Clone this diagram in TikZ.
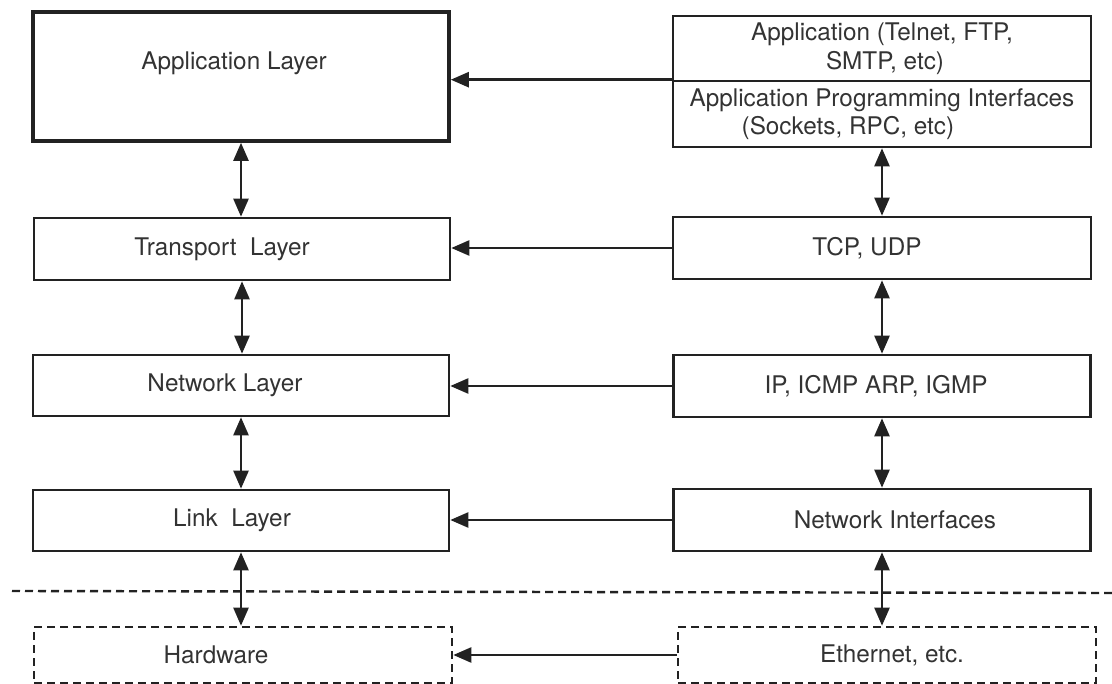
\documentclass[tikz,border=0pt]{standalone}
\usepackage{fontspec}
\setmainfont{TeX Gyre Heros}
\usetikzlibrary{arrows.meta,positioning}
\definecolor{ink}{HTML}{222222}
\definecolor{txt}{HTML}{333333}

\begin{document}
\begin{tikzpicture}[x=1pt, y=-1pt,
    layer/.style={draw=ink, line width=2.6pt, rectangle, minimum width=416pt, minimum height=62pt, inner sep=0pt, text=txt, font=\fontsize{24.3}{28.5}\selectfont},
    hwbox/.style={layer, dash pattern=on 8pt off 5pt, minimum width=418pt, minimum height=56pt},
    arr/.style={-{Triangle[length=18pt,width=15pt]}, line width=2.4pt, draw=ink},
    darr/.style={{Triangle[length=18pt,width=15pt]}-{Triangle[length=18pt,width=15pt]}, line width=2.4pt, draw=ink},
  ]
  \useasboundingbox (0,0) rectangle (1112,684);

  % Left column: the layers
  \node[layer, line width=3.6pt, minimum height=129pt, text depth=32pt] (App) at (241,76.5) {Application Layer\hspace*{14pt}};
  \node[layer] (Trans) at (242,249) {Transport~ Layer\hspace*{40pt}};
  \node[layer, minimum height=61pt] (Net) at (241,385.5) {Network Layer\hspace*{32pt}};
  \node[layer, minimum height=61pt] (Link) at (241,520.5) {Link~ Layer\hspace*{18pt}};
  \node[hwbox] (HW) at (243,655) {Hardware\hspace*{54pt}};

  % Right column: the protocols
  \node[layer, minimum width=418pt, minimum height=65pt, align=center] (AppTop) at (882,48.5) {Application (Telnet, FTP,\\SMTP, etc)\hspace*{-6pt}};
  \node[layer, minimum width=418pt, minimum height=66pt, align=left] (API) at (882,114) {Application Programming Interfaces\\\hspace*{52pt}(Sockets, RPC, etc)};
  \node[layer, minimum width=418pt] (TCP) at (882,248) {TCP, UDP\hspace*{30pt}};
  \node[layer, minimum width=417pt] (IP) at (882,386) {IP, ICMP ARP, IGMP\hspace*{12pt}};
  \node[layer, minimum width=417pt] (NI) at (882,520) {\hspace*{26pt}Network Interfaces};
  \node[hwbox] (Eth) at (887,655) {\hspace*{10pt}Ethernet, etc.};

  % divider between software and hardware
  \coordinate (divL) at (12,591);
  \coordinate (divR) at (1112,593);
  \draw[draw=ink, line width=2.4pt, dash pattern=on 8pt off 5pt] (divL) -- (divR);

  % protocols map onto layers
  \draw[arr] (API.north west) -- (API.north west -| App.east);
  \draw[arr] (TCP.west) -- (TCP.west -| Trans.east);
  \draw[arr] (IP.west) -- (IP.west -| Net.east);
  \draw[arr] (NI.west) -- (NI.west -| Link.east);
  \draw[arr] (Eth.west) -- (Eth.west -| HW.east);

  % up and down the stacks
  \draw[darr] (App.south) -- (App.south |- Trans.north);
  \draw[darr] (Trans.south) -- (Trans.south |- Net.north);
  \draw[darr] (Net.south) -- (Link.north);
  \draw[darr] (Link.south) -- (Link.south |- HW.north);
  \draw[darr] (API.south) -- (TCP.north);
  \draw[darr] (TCP.south) -- (IP.north);
  \draw[darr] (IP.south) -- (NI.north);
  \draw[darr] (NI.south) -- (NI.south |- Eth.north);
\end{tikzpicture}
\end{document}
